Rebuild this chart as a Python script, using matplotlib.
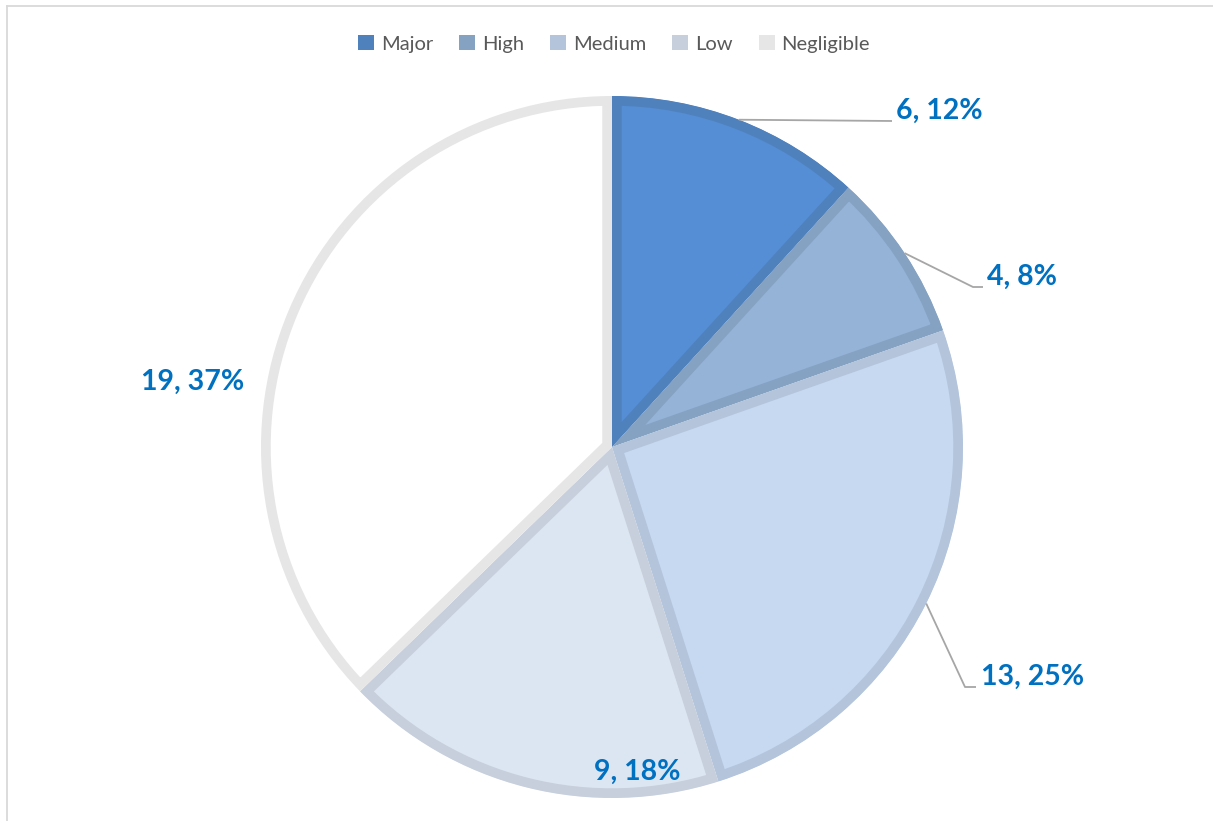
import matplotlib
matplotlib.use('Agg')
import matplotlib.pyplot as plt
from matplotlib.patches import Patch
import numpy as np

# ---- data ----
categories = ['Major', 'High', 'Medium', 'Low', 'Negligible']
counts = [6, 4, 13, 9, 19]
fill_colors = ['#558ED5', '#95B3D7', '#C6D9F1', '#DCE6F2', '#FFFFFF']
edge_colors = ['#4F81BD', '#85A2C2', '#B3C4DB', '#C8CFDC', '#E6E6E6']

W, H = 1213, 821
fig = plt.figure(figsize=(W / 100, H / 100), dpi=100)
ax = fig.add_axes([0, 0, 1, 1])

cx, cy, R = 612, H - 447, 351
wedges, _ = ax.pie(counts, colors=fill_colors, startangle=90, counterclock=False,
                   radius=R, center=(cx, cy))

ax.set_xlim(0, W)
ax.set_ylim(0, H)
ax.set_aspect('equal')
ax.axis('off')

for w, ec in zip(wedges, edge_colors):
    w.set_edgecolor(ec)
    w.set_linewidth(14)
    w.set_joinstyle('miter')
    w.set_clip_on(True)
    w.set_clip_path(w)

total = sum(counts)
labels = [f"{c}, {round(c / total * 100)}%" for c in counts]

# label placement (image coords): text left x, text centre y, leader elbow points or None
placements = [
    ((896, 111), [(892, 121)]),
    ((987, 277), [(973, 287), (983, 287)]),
    ((981, 677), [(965, 687), (976, 687)]),
    ((594, 772), None),
    ((141, 382), None),
]

label_color = '#0070C0'
for i, (lab, (tpos, elbow)) in enumerate(zip(labels, placements)):
    w = wedges[i]
    mid = np.deg2rad((w.theta1 + w.theta2) / 2)
    if elbow is not None:
        sx, sy = cx + R * np.cos(mid), cy + R * np.sin(mid)
        xs = [sx] + [p[0] for p in elbow]
        ys = [sy] + [H - p[1] for p in elbow]
        ax.plot(xs, ys, color='#A6A6A6', lw=1.3, solid_capstyle='butt', zorder=5)
    ax.text(tpos[0], H - tpos[1], lab, ha='left', va='center', color=label_color,
            fontsize=20.5, fontweight='bold', family=['Lato', 'DejaVu Sans'], zorder=6)

# chart border (top and left visible)
ax.plot([6.5, W], [H - 5.5, H - 5.5], color='#D9D9D9', lw=1.3, clip_on=False)
ax.plot([6.5, 6.5], [H - 5.5, 0], color='#D9D9D9', lw=1.3, clip_on=False)

handles = [Patch(facecolor=ec, edgecolor='none') for ec in edge_colors]
leg = fig.legend(handles, categories, loc='center', bbox_to_anchor=(614 / W, 1 - 44 / H),
                 ncol=5, frameon=False, handlelength=0.78, handleheight=0.78,
                 handletextpad=0.35, columnspacing=1.3,
                 prop={'family': ['Lato', 'DejaVu Sans'], 'size': 14.5})
for t in leg.get_texts():
    t.set_color('#595959')

fig.savefig('out.png', dpi=100, facecolor='white')
